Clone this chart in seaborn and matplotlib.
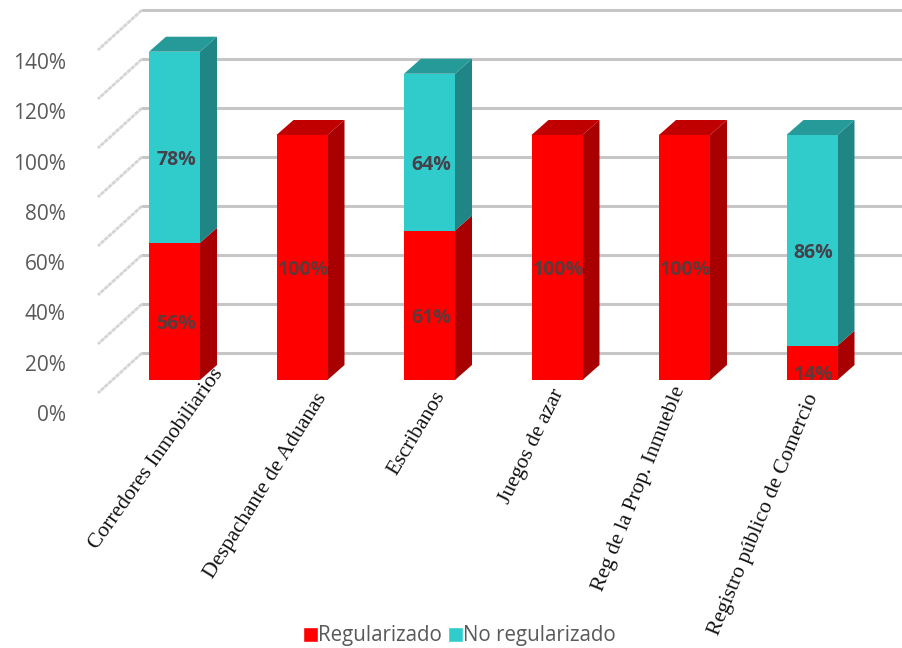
import matplotlib
matplotlib.use("Agg")
import matplotlib.pyplot as plt
from matplotlib.patches import Patch, Polygon
from matplotlib.transforms import ScaledTranslation
import numpy as np
import seaborn as sns

categories = ["Corredores Inmobiliarios", "Despachante de Aduanas", "Escribanos",
              "Juegos de azar", "Reg de la Prop. Inmueble", "Registro público de Comercio"]
regularizado = [56, 100, 61, 100, 100, 14]
no_regularizado = [78, 0, 64, 0, 0, 86]
y_ticks = [0, 20, 40, 60, 80, 100, 120, 140]
wall_ticks = [20, 40, 60, 80, 100, 120, 140, 160]

RED, RED_SIDE, RED_TOP = "#ff0000", "#a80000", "#c00000"
TEAL, TEAL_SIDE, TEAL_TOP = "#30cccc", "#1f8585", "#269999"
W, H = 902, 648
PX_PER_UNIT = 2.45
STEP = 127.5
DEPTH_X, DEPTH_Y = 17 / STEP, 15 / PX_PER_UNIT

sns.set_theme(style="white")
SANS = "Open Sans"
plt.rcParams["font.family"] = [SANS, "DejaVu Sans"]
fig = plt.figure(figsize=(W / 100, H / 100), dpi=100, facecolor="white")

def box(left, top, right, bottom):
    return [left / W, 1 - bottom / H, (right - left) / W, (bottom - top) / H]

# back wall with gridlines
wall = fig.add_axes(box(142, 0, W, 402), zorder=1)
wall.set_xlim(0, 1)
wall.set_ylim(0, 402 / PX_PER_UNIT)
wall.set_yticks(wall_ticks)
wall.set_xticks([])
wall.tick_params(labelleft=False, length=0)
wall.grid(axis="y", color="#c6c6c6", lw=2.2)
sns.despine(ax=wall, left=True, bottom=True)
wall.patch.set_alpha(0)
for t in wall_ticks:
    wall.plot([0, -44 / (W - 142)], [t, t - 40 / PX_PER_UNIT], color="#d4d4d4", lw=2.0,
              ls=(0, (1.6, 0.25)), clip_on=False)

# y-axis labels
yax = fig.add_axes(box(70, 61, 72, 413), zorder=1)
yax.set_ylim(0, 140)
yax.set_yticks(y_ticks)
yax.set_yticklabels([f"{t}%" for t in y_ticks], fontsize=15, color="#595959", family=SANS)
yax.set_xticks([])
yax.tick_params(axis="y", length=0, pad=3)
sns.despine(ax=yax, left=True, bottom=True)
yax.patch.set_alpha(0)

# bars
ax = fig.add_axes(box(0, 0, W, 380), zorder=2)
ax.patch.set_alpha(0)
x = np.arange(len(categories))
sns.barplot(x=categories, y=regularizado, color=RED, saturation=1, width=0.4, ax=ax,
            zorder=3, linewidth=0, edgecolor="none")
n_red = len(ax.patches)
sns.barplot(x=categories, y=no_regularizado, bottom=regularizado, color=TEAL, saturation=1,
            width=0.4, ax=ax, zorder=3, linewidth=0, edgecolor="none")
ax.set_xlim(-174.5 / STEP, (W - 174.5) / STEP)
ax.set_ylim(0, 380 / PX_PER_UNIT)
sns.despine(ax=ax, left=True, bottom=True)
ax.set_yticks([])
ax.set_ylabel("")

totals = np.array(regularizado) + np.array(no_regularizado)
for i, p in enumerate(list(ax.patches)):
    px, py, pw, ph = p.get_x(), p.get_y(), p.get_width(), p.get_height()
    if ph <= 0:
        continue
    is_red = i < n_red
    side, top = (RED_SIDE, RED_TOP) if is_red else (TEAL_SIDE, TEAL_TOP)
    ax.add_patch(Polygon([(px + pw, py), (px + pw + DEPTH_X, py + DEPTH_Y),
                          (px + pw + DEPTH_X, py + ph + DEPTH_Y), (px + pw, py + ph)],
                         closed=True, fc=side, ec="none", zorder=2.9, clip_on=False))
    if abs(py + ph - totals[int(round(px + pw / 2))]) < 1e-6:
        ax.add_patch(Polygon([(px, py + ph), (px + DEPTH_X, py + ph + DEPTH_Y),
                              (px + pw + DEPTH_X, py + ph + DEPTH_Y), (px + pw, py + ph)],
                             closed=True, fc=top, ec="none", zorder=2.9, clip_on=False))
    ax.annotate(f"{int(ph)}%", (px + pw / 2, py + ph / 2), xytext=(1, -9),
                textcoords="offset points", ha="center", va="center",
                fontsize=14, fontweight="bold", color="#46404a" if not is_red else "#5a3a3a",
                family=SANS, zorder=5)

# category labels: each one has its own slant in the reference
ax.set_xticks(x)
ax.set_xticklabels(categories, ha="center", va="center", fontsize=15.5,
                   family="Liberation Serif", color="#111111")
ax.tick_params(axis="x", length=0, pad=0)
label_angle = [54.5, 58, 59, 64, 68, 67.5]
label_shift = [(-18.5, 79), (-36, 105.5), (-13, 53.5), (-25, 66.5), (-45, 108.5), (-48, 134.5)]
for lab, angle, (dx, dy) in zip(ax.get_xticklabels(), label_angle, label_shift):
    lab.set_rotation(angle)
    lab.set_transform(lab.get_transform() + ScaledTranslation(dx / 100, -dy / 100, fig.dpi_scale_trans))

handles = [Patch(fc=RED, label="Regularizado"), Patch(fc=TEAL, label="No regularizado")]
leg = fig.legend(handles=handles, loc="center", bbox_to_anchor=(459.5 / W, 1 - 636 / H), ncol=2, frameon=False,
                 fontsize=14.8, handlelength=0.72, handleheight=0.72, handletextpad=0.0,
                 columnspacing=0.3, labelcolor="#595959", borderpad=0)

fig.savefig("out.png", dpi=100, facecolor="white")
